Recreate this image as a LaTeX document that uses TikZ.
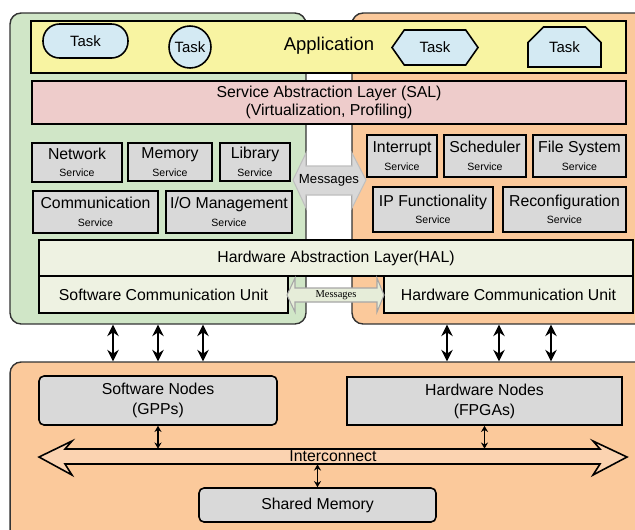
\documentclass[tikz,border=0pt]{standalone}
\usepackage{fontspec}
\setmainfont{Liberation Sans}
\newfontfamily\msgserif{Liberation Serif}
\usepackage{xcolor}
\usepackage{tikz}
\usetikzlibrary{shapes.misc, shapes.symbols, arrows.meta}

\definecolor{swgreen}{HTML}{D0E6C7}
\definecolor{hworange}{HTML}{FBC99B}
\definecolor{appyellow}{HTML}{F8F4A2}
\definecolor{salpink}{HTML}{EECCCB}
\definecolor{svcgray}{HTML}{D9D9D9}
\definecolor{taskblue}{HTML}{D4EAF3}
\definecolor{halgreen}{HTML}{EEF2E2}
\definecolor{msggray}{HTML}{D8D8D8}
\definecolor{msgpale}{HTML}{E6EDD9}
\definecolor{busfill}{HTML}{FBD3B1}

\newcommand{\svcname}[1]{#1\\{\fontsize{6}{7}\selectfont Service}}

\begin{document}
\begin{tikzpicture}[x=0.02cm, y=-0.02cm,
        panel/.style={draw=black!80, line width=0.8pt, rounded corners=0.22cm},
        box/.style={rectangle, draw, line width=0.9pt, inner sep=0pt, align=center, font=\fontsize{9}{10}\selectfont},
        svc/.style={box, fill=svcgray},
        task/.style={draw, line width=0.9pt, fill=taskblue, inner sep=0pt, font=\fontsize{8.5}{10}\selectfont},
        msgarrow/.style={draw=black!25, fill=msggray, line width=0.6pt},
        msgsmall/.style={draw=black!35, fill=msgpale, line width=0.6pt},
        bus/.style={draw, fill=busfill, line width=0.9pt},
        link/.style={{Stealth[length=6.5pt,width=6.5pt]}-{Stealth[length=6.5pt,width=6.5pt]}, line width=1.4pt},
        minilink/.style={{Stealth[length=3.5pt,width=4pt]}-{Stealth[length=3.5pt,width=4pt]}, line width=0.8pt}
    ]
    \useasboundingbox (0,0) rectangle (635,529);
    \clip (0,0) rectangle (635,529);

    \node[panel, fill=swgreen, minimum width=5.92cm, minimum height=6.22cm] (swpanel) at (158,168.5) {};
    \node[panel, fill=hworange, minimum width=6.56cm, minimum height=6.22cm] (hwpanel) at (516,168.5) {};
    \node[panel, fill=hworange, minimum width=13.4cm, minimum height=4.36cm] (botpanel) at (345,471) {};

    \node[box, fill=appyellow, minimum width=11.9cm, minimum height=1.04cm] (app) at (328.5,47) {};
    \node[font=\fontsize{10.5}{12}\selectfont] (applabel) at (329,46) {Application};
    \node[task, rounded corners=0.33cm, minimum width=1.7cm, minimum height=0.68cm] (task1) at (85.5,41) {Task};
    \node[task, circle, minimum size=0.84cm] (task2) at (190,47) {Task};
    \node[task, signal, signal to=east and west, signal pointer angle=110, minimum width=1.72cm, minimum height=0.7cm] (task3) at (435,47.5) {Task};
    \node[task, chamfered rectangle, chamfered rectangle corners={north west, north east}, chamfered rectangle xsep=0.2cm, chamfered rectangle ysep=0.2cm, minimum width=1.46cm, minimum height=0.8cm] (task4) at (564.5,47) {Task};

    \node[box, fill=salpink, minimum width=11.88cm, minimum height=0.86cm] (sal) at (329,102.5) {Service Abstraction Layer (SAL)\\(Virtualization, Profiling)};

    \node[svc, minimum width=1.8cm, minimum height=0.78cm] (net) at (77,162.5) {\svcname{Network}};
    \node[svc, minimum width=1.68cm, minimum height=0.76cm] (mem) at (170,162) {\svcname{Memory}};
    \node[svc, minimum width=1.4cm, minimum height=0.76cm] (lib) at (255,162) {\svcname{Library}};
    \node[svc, minimum width=2.5cm, minimum height=0.84cm] (com) at (95.5,212) {\svcname{Communication}};
    \node[svc, minimum width=2.52cm, minimum height=0.84cm] (io) at (229,212) {\svcname{I/O Management}};

    \node[svc, minimum width=1.4cm, minimum height=0.84cm] (intr) at (402,156) {\svcname{Interrupt}};
    \node[svc, minimum width=1.64cm, minimum height=0.84cm] (sched) at (485,156) {\svcname{Scheduler}};
    \node[svc, minimum width=1.86cm, minimum height=0.84cm] (fs) at (579.5,156) {\svcname{File System}};
    \node[svc, minimum width=2.4cm, minimum height=0.9cm] (ip) at (433,209.5) {\svcname{IP Functionality}};
    \node[svc, minimum width=2.46cm, minimum height=0.9cm] (reconf) at (564.5,209.5) {\svcname{Reconfiguration}};

    \draw[msgarrow] (293,180) -- (306,153) -- (306,166) -- (352,166) -- (352,153) -- (366,180)
        -- (352,208) -- (352,195) -- (306,195) -- (306,208) -- cycle;
    \node[font=\fontsize{7.5}{9}\selectfont] (msgsal) at (329,180) {Messages};

    \node[box, fill=halgreen, minimum width=11.88cm, minimum height=0.72cm] (hal) at (336,258) {Hardware Abstraction Layer(HAL)};
    \node[box, fill=halgreen, minimum width=4.98cm, minimum height=0.74cm] (scu) at (163.5,294.5) {Software Communication Unit};
    \node[box, fill=halgreen, minimum width=4.98cm, minimum height=0.74cm] (hcu) at (508.5,294.5) {Hardware Communication Unit};

    \draw[msgsmall] (287,295) -- (295,278) -- (295,288) -- (377,288) -- (377,278) -- (384,295)
        -- (377,312) -- (377,302) -- (295,302) -- (295,312) -- cycle;
    \node[font=\msgserif\fontsize{6}{7}\selectfont] (msghal) at (336,295) {Messages};

    \foreach \x in {113,158,203}
        \draw[link] (\x,0 |- swpanel.south) -- (\x,0 |- botpanel.north);
    \foreach \x in {447,499,551}
        \draw[link] (\x,0 |- hwpanel.south) -- (\x,0 |- botpanel.north);

    \node[box, fill=svcgray, rounded corners=0.1cm, minimum width=4.76cm, minimum height=0.98cm, font=\fontsize{9}{11.5}\selectfont] (swn) at (158,400.5) {Software Nodes\\(GPPs)};
    \node[box, fill=svcgray, minimum width=5.5cm, minimum height=0.96cm, font=\fontsize{9}{11.5}\selectfont] (hwn) at (484.5,401) {Hardware Nodes\\(FPGAs)};

    \draw[bus] (39,457) -- (72,441) -- (65,449) -- (600,449) -- (593,441) -- (627,457)
        -- (593,475) -- (600,464) -- (65,464) -- (72,475) -- cycle;
    \node[inner sep=0pt, minimum width=11.7cm, minimum height=0.3cm, font=\fontsize{9}{10}\selectfont] (ic) at (333,456.5) {Interconnect};

    \node[box, fill=svcgray, rounded corners=0.1cm, minimum width=4.74cm, minimum height=0.68cm] (shm) at (317.5,505) {Shared Memory};

    \draw[minilink] (swn.south) -- (swn.south |- ic.north);
    \draw[minilink] (hwn.south) -- (hwn.south |- ic.north);
    \draw[minilink] (ic.south -| shm.north) -- (shm.north);
\end{tikzpicture}
\end{document}
